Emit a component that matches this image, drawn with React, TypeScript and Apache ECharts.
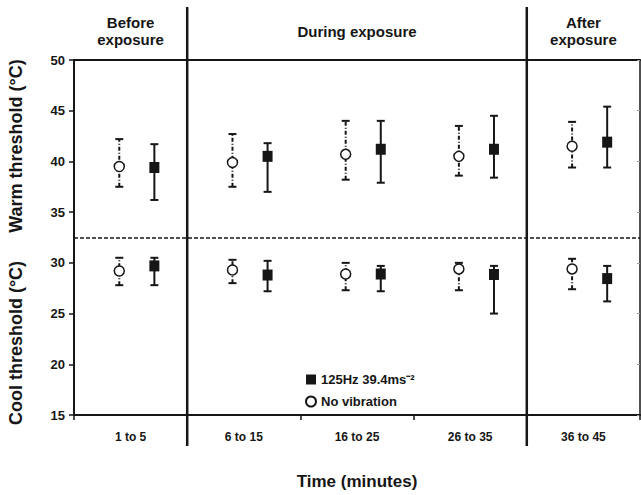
import React, { useEffect, useRef } from "react";
import * as echarts from "echarts";

const categories = ["1 to 5", "6 to 15", "16 to 25", "26 to 35", "36 to 45"];
const headerBefore = "Before\nexposure";
const headerDuring = "During exposure";
const headerAfter = "After\nexposure";
const legendVib = "125Hz 39.4ms⁻²";
const legendNoVib = "No vibration";

// Warm thresholds (°C)
const warmNoVib = [39.5, 39.9, 40.7, 40.5, 41.5];
const warmNoVibLow = [37.5, 37.5, 38.2, 38.6, 39.4];
const warmNoVibHigh = [42.2, 42.7, 44.0, 43.5, 43.9];
const warmVib = [39.4, 40.5, 41.2, 41.2, 41.9];
const warmVibLow = [36.2, 37.0, 37.9, 38.4, 39.4];
const warmVibHigh = [41.7, 41.8, 44.0, 44.5, 45.4];

// Cool thresholds (°C)
const coolNoVib = [29.2, 29.3, 28.9, 29.4, 29.4];
const coolNoVibLow = [27.8, 28.0, 27.3, 27.3, 27.4];
const coolNoVibHigh = [30.5, 30.3, 30.0, 30.0, 30.4];
const coolVib = [29.7, 28.8, 28.9, 28.85, 28.45];
const coolVibLow = [27.8, 27.2, 27.2, 25.0, 26.2];
const coolVibHigh = [30.5, 30.2, 29.7, 29.7, 29.7];

const dividerValue = 32.5;

const OFF_NO = 0.4;
const OFF_VIB = 0.71;
const FONT = "Liberation Sans, Arial, sans-serif";
const INK = "#161616";

export default function App() {
  const ref = useRef<HTMLDivElement>(null);
  useEffect(() => {
    if (!ref.current) return;
    const chart = echarts.init(ref.current, null, { renderer: "svg" });

    const noVibPts: number[][] = [];
    const vibPts: number[][] = [];
    const noVibBars: number[][] = [];
    const vibBars: number[][] = [];
    categories.forEach((_, i) => {
      noVibPts.push([i + OFF_NO, warmNoVib[i]], [i + OFF_NO, coolNoVib[i]]);
      vibPts.push([i + OFF_VIB, warmVib[i]], [i + OFF_VIB, coolVib[i]]);
      noVibBars.push([i + OFF_NO, warmNoVibLow[i], warmNoVibHigh[i]], [i + OFF_NO, coolNoVibLow[i], coolNoVibHigh[i]]);
      vibBars.push([i + OFF_VIB, warmVibLow[i], warmVibHigh[i]], [i + OFF_VIB, coolVibLow[i], coolVibHigh[i]]);
    });

    const makeRender = (dash: number[] | null) => (params: any, api: any) => {
      const x = api.value(0);
      const lo = api.coord([x, api.value(1)]);
      const hi = api.coord([x, api.value(2)]);
      const style: any = { stroke: INK, lineWidth: 2, lineDash: dash || undefined };
      const cap = { stroke: INK, lineWidth: 2 };
      return {
        type: "group",
        children: [
          { type: "line", shape: { x1: lo[0], y1: lo[1], x2: hi[0], y2: hi[1] }, style },
          { type: "line", shape: { x1: hi[0] - 4, y1: hi[1], x2: hi[0] + 4, y2: hi[1] }, style: cap },
          { type: "line", shape: { x1: lo[0] - 4, y1: lo[1], x2: lo[0] + 4, y2: lo[1] }, style: cap },
        ],
      };
    };

    const axisText = { fontFamily: FONT, fontWeight: "bold" as const, fontSize: 12, color: INK };

    chart.setOption({
      animation: false,
      grid: { left: 74, right: 1, top: 60, bottom: 68, containLabel: false },
      legend: {
        orient: "vertical",
        left: 300,
        top: 368,
        itemWidth: 10,
        itemHeight: 10,
        itemGap: 9,
        data: [legendVib, legendNoVib],
        textStyle: { fontFamily: FONT, fontWeight: "bold", fontSize: 13, color: INK },
      },
      xAxis: [
        {
          type: "category",
          data: categories,
          boundaryGap: true,
          position: "bottom",
          axisLine: { lineStyle: { color: INK, width: 2 } },
          axisTick: { show: true, length: 5, lineStyle: { color: INK, width: 1.5 } },
          axisLabel: { ...axisText, margin: 16 },
          splitLine: { show: false },
          name: "Time (minutes)",
          nameLocation: "middle",
          nameGap: 58,
          nameTextStyle: { fontFamily: FONT, fontWeight: "bold", fontSize: 17, color: INK },
        },
        {
          type: "value",
          min: 0,
          max: 5,
          position: "top",
          axisLine: { show: true, lineStyle: { color: INK, width: 2 } },
          axisTick: { show: false },
          axisLabel: { show: false },
          splitLine: { show: false },
        },
      ],
      yAxis: [
        {
          type: "value",
          min: 15,
          max: 50,
          interval: 5,
          axisLine: { show: true, lineStyle: { color: INK, width: 2 } },
          axisTick: { show: true, length: 5, lineStyle: { color: INK, width: 1.5 } },
          axisLabel: { ...axisText, fontSize: 13, margin: 9 },
          splitLine: { show: false },
        },
        {
          type: "value",
          min: 15,
          max: 50,
          interval: 5,
          position: "right",
          axisLine: { show: true, lineStyle: { color: INK, width: 1.5 } },
          axisTick: { show: true, inside: true, length: 3, lineStyle: { color: "#999" } },
          axisLabel: { show: false },
          splitLine: { show: false },
        },
      ],
      series: [
        {
          type: "custom",
          name: "noVibBars",
          xAxisIndex: 1,
          yAxisIndex: 0,
          renderItem: makeRender([4, 2, 1, 2]),
          data: noVibBars,
          z: 2,
          silent: true,
        },
        {
          type: "custom",
          name: "vibBars",
          xAxisIndex: 1,
          yAxisIndex: 0,
          renderItem: makeRender(null),
          data: vibBars,
          z: 2,
          silent: true,
        },
        {
          type: "scatter",
          name: legendNoVib,
          xAxisIndex: 1,
          yAxisIndex: 0,
          symbol: "circle",
          symbolSize: 10,
          itemStyle: { color: "#ffffff", borderColor: INK, borderWidth: 1.5, opacity: 1 },
          data: noVibPts,
          z: 5,
          markLine: {
            silent: true,
            symbol: "none",
            label: { show: false },
            lineStyle: { color: INK, type: [4, 2], width: 1.5 },
            data: [{ yAxis: dividerValue }],
          },
        },
        {
          type: "scatter",
          name: legendVib,
          xAxisIndex: 1,
          yAxisIndex: 0,
          symbol: "rect",
          symbolSize: [10, 11],
          itemStyle: { color: INK, opacity: 1 },
          data: vibPts,
          z: 5,
        },
      ],
    });

    const px = (v: number) => chart.convertToPixel({ xAxisIndex: 1 }, v) as number;
    const py = (v: number) => chart.convertToPixel({ yAxisIndex: 0 }, v) as number;
    const x0 = px(0), x1 = px(1), x4 = px(4), x5 = px(5);
    const yTop = py(50), yBot = py(15);
    const headerStyle = { fontFamily: FONT, fontWeight: "bold", fontSize: 15, fill: INK, align: "center", verticalAlign: "middle", lineHeight: 17 };
    const yTitleStyle = { fontFamily: FONT, fontWeight: "bold", fontSize: 18, fill: INK, align: "center", verticalAlign: "middle" };

    chart.setOption({
      graphic: [
        { type: "line", shape: { x1: x1, y1: 7, x2: x1, y2: yBot + 31 }, style: { stroke: INK, lineWidth: 2.5 }, z: 10 },
        { type: "line", shape: { x1: x4, y1: 7, x2: x4, y2: yBot + 31 }, style: { stroke: INK, lineWidth: 2.5 }, z: 10 },
        { type: "text", x: (x0 + x1) / 2, y: yTop - 29, style: { text: headerBefore, ...headerStyle } },
        { type: "text", x: (x1 + x4) / 2, y: yTop - 29, style: { text: headerDuring, ...headerStyle } },
        { type: "text", x: (x4 + x5) / 2, y: yTop - 29, style: { text: headerAfter, ...headerStyle } },
        { type: "text", x: 16, y: 146, rotation: Math.PI / 2, style: { text: "Warm threshold (°C)", ...yTitleStyle } },
        { type: "text", x: 16, y: 343, rotation: Math.PI / 2, style: { text: "Cool threshold (°C)", ...yTitleStyle } },
      ],
    });

    return () => chart.dispose();
  }, []);

  return <div ref={ref} style={{ position: "absolute", left: 0, top: 0, width: 641, height: 495 }} />;
}
